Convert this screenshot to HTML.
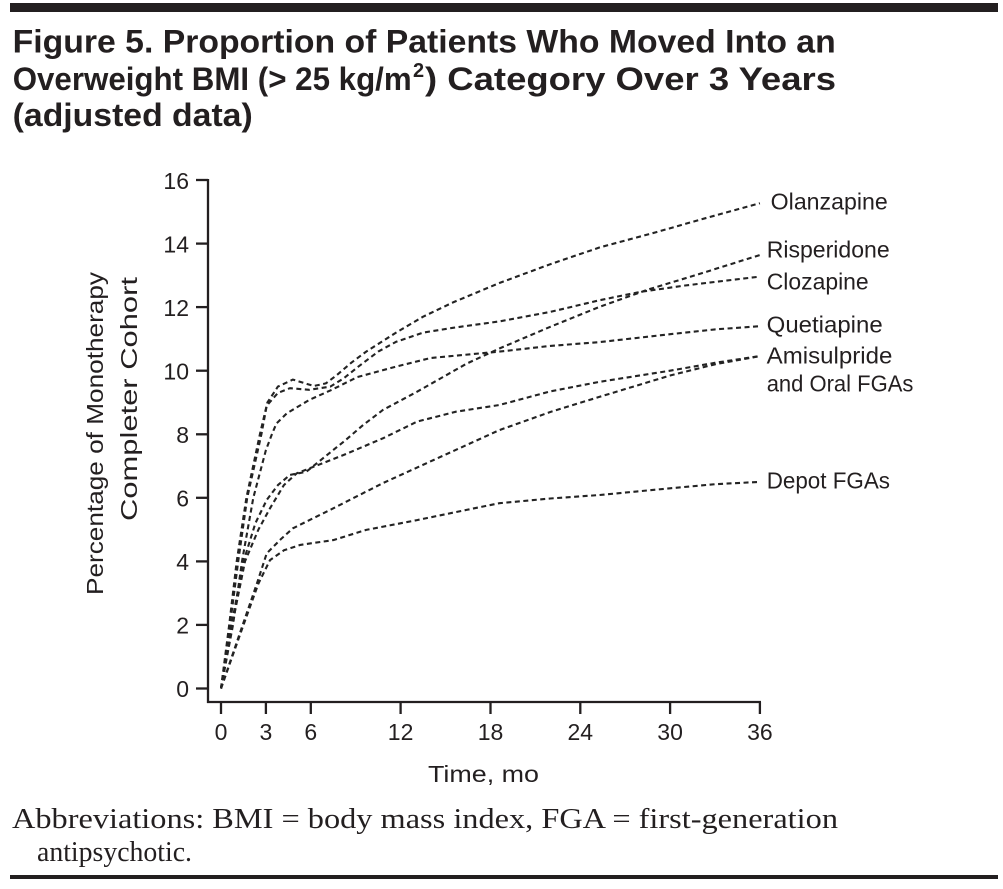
<!DOCTYPE html>
<html>
<head>
<meta charset="utf-8">
<style>
  html, body { margin: 0; padding: 0; background: #fff; }
  body { width: 1003px; height: 889px; overflow: hidden; }
  svg { display: block; }
  .sans { font-family: "Liberation Sans", sans-serif; fill: #231f20; }
  .serif { font-family: "Liberation Serif", serif; fill: #231f20; }
  .ln { fill: none; stroke: #232323; stroke-width: 2.1; stroke-dasharray: 5 3.5; stroke-linejoin: round; stroke-linecap: butt; }
</style>
</head>
<body>
<svg width="1003" height="889" viewBox="0 0 1003 889" xmlns="http://www.w3.org/2000/svg">
  <!-- top bar -->
  <rect x="10" y="3" width="988" height="9" fill="#231f20"/>

  <!-- title -->
  <text class="sans" x="12.7" y="52.5" font-size="32" font-weight="bold" textLength="823" lengthAdjust="spacingAndGlyphs">Figure 5. Proportion of Patients Who Moved Into an</text>
  <text class="sans" x="12.7" y="90" font-size="32" font-weight="bold" textLength="399" lengthAdjust="spacingAndGlyphs">Overweight BMI (&gt; 25 kg/m</text>
  <text class="sans" x="413" y="77" font-size="20" font-weight="bold">2</text>
  <text class="sans" x="425" y="90" font-size="32" font-weight="bold" textLength="411" lengthAdjust="spacingAndGlyphs">) Category Over 3 Years</text>
  <text class="sans" x="12.7" y="126" font-size="32" font-weight="bold" textLength="240" lengthAdjust="spacingAndGlyphs">(adjusted data)</text>

  <!-- axes -->
  <g stroke="#231f20" stroke-width="2.3" fill="none">
    <line x1="208" y1="179" x2="208" y2="703"/>
    <line x1="207" y1="702" x2="761" y2="702"/>
    <!-- y ticks -->
    <line x1="196" y1="688.5" x2="208" y2="688.5"/>
    <line x1="196" y1="624.9" x2="208" y2="624.9"/>
    <line x1="196" y1="561.4" x2="208" y2="561.4"/>
    <line x1="196" y1="497.8" x2="208" y2="497.8"/>
    <line x1="196" y1="434.3" x2="208" y2="434.3"/>
    <line x1="196" y1="370.7" x2="208" y2="370.7"/>
    <line x1="196" y1="307.1" x2="208" y2="307.1"/>
    <line x1="196" y1="243.6" x2="208" y2="243.6"/>
    <line x1="196" y1="180" x2="208" y2="180"/>
    <!-- x ticks -->
    <line x1="221" y1="702" x2="221" y2="714"/>
    <line x1="265.9" y1="702" x2="265.9" y2="714"/>
    <line x1="310.8" y1="702" x2="310.8" y2="714"/>
    <line x1="400.6" y1="702" x2="400.6" y2="714"/>
    <line x1="490.5" y1="702" x2="490.5" y2="714"/>
    <line x1="580.3" y1="702" x2="580.3" y2="714"/>
    <line x1="670.1" y1="702" x2="670.1" y2="714"/>
    <line x1="759.9" y1="702" x2="759.9" y2="714"/>
  </g>

  <!-- y tick labels -->
  <g class="sans" font-size="23" text-anchor="end">
    <text x="189" y="697">0</text>
    <text x="189" y="633.5">2</text>
    <text x="189" y="570">4</text>
    <text x="189" y="506.5">6</text>
    <text x="189" y="443">8</text>
    <text x="189" y="379.5">10</text>
    <text x="189" y="316">12</text>
    <text x="189" y="252.5">14</text>
    <text x="189" y="189">16</text>
  </g>

  <!-- x tick labels -->
  <g class="sans" font-size="23" text-anchor="middle">
    <text x="221" y="740">0</text>
    <text x="265.9" y="740">3</text>
    <text x="310.8" y="740">6</text>
    <text x="400.6" y="740">12</text>
    <text x="490.5" y="740">18</text>
    <text x="580.3" y="740">24</text>
    <text x="670.1" y="740">30</text>
    <text x="759.9" y="740">36</text>
  </g>

  <!-- axis titles -->
  <text class="sans" x="428" y="782" font-size="23" textLength="111" lengthAdjust="spacingAndGlyphs">Time, mo</text>
  <text class="sans" font-size="23" text-anchor="middle" transform="translate(103,433.5) rotate(-90)" textLength="323" lengthAdjust="spacingAndGlyphs">Percentage of Monotherapy</text>
  <text class="sans" font-size="23" text-anchor="middle" transform="translate(137,399) rotate(-90)" textLength="244" lengthAdjust="spacingAndGlyphs">Completer Cohort</text>

  <!-- series -->
  <!-- Olanzapine -->
  <polyline class="ln" points="221,688.5 229.2,624.9 236.7,561.4 246.4,497.8 259.9,434.3 267.4,402.5 277.9,386.6 292.9,379.6 303.3,382.8 313.8,386 325.8,383.4 336.3,375.5 351.2,362.8 366.2,351.6 396.1,332.6 423.1,316.7 453,302.4 499.4,283 550.3,264.2 599.7,247.4 655.1,232.5 700,219.7 759.9,203.2"/>
  <!-- Clozapine -->
  <polyline class="ln" points="221,688.5 230,624.9 238.2,561.4 247.2,497.8 261.4,434.3 266.7,405.7 277.9,392.9 289.9,388.2 309.3,389.8 330.3,386.6 343.8,378.3 357.2,367.5 378.2,351.6 396.1,341.8 423.1,332.6 453,327.8 499.4,321.4 550.3,311.9 599.7,300.2 640.2,291.9 685.1,285.5 759.9,276.6"/>
  <!-- Quetiapine -->
  <polyline class="ln" points="221,688.5 233,624.9 242,561.4 253.3,497.8 265.9,450.1 271.9,434.3 276.4,423.5 286.9,413.3 309.3,399.9 331.8,389.8 357.2,377.1 396.1,366.6 430.6,358 499.4,351.6 550.3,345.9 599.7,342.1 670.1,334.2 715,329.4 759.9,326.2"/>
  <!-- Risperidone -->
  <polyline class="ln" points="221,688.5 231.5,624.9 243.5,561.4 255.4,523.2 266.7,500 277.9,485.1 289.9,474.9 306.3,471.8 322.8,458.4 343.8,441.6 363.2,425 382.7,410.1 417.1,391.7 466.5,363.7 499.4,348.5 550.3,326.8 599.7,306.8 647.6,289.7 700,273.8 759.9,255"/>
  <!-- Amisulpride -->
  <polyline class="ln" points="221,688.5 232.2,624.9 245,561.4 258.4,529.6 270,508.3 283.9,485.1 296.7,473.3 313.8,466.7 343.8,454.9 382.7,438.4 417.1,421.6 456,411.7 499.4,405 550.3,391.4 599.7,381.8 670.1,370.7 715,362.8 759.9,356.1"/>
  <!-- Oral FGAs -->
  <polyline class="ln" points="221,688.5 242.7,624.9 256.9,583.6 266.7,553.4 280.9,539.1 292.9,528.3 333.3,508.3 382.7,483.2 433.6,460 499.4,430.1 550.3,412 599.7,396.8 670.1,375.5 715,364.3 759.9,356.1"/>
  <!-- Depot FGAs -->
  <polyline class="ln" points="221,688.5 243.5,624.9 258.4,583.6 270,560.1 283.9,550.3 300.3,544.9 333.3,540.1 366.2,529.9 417.1,520.1 466.5,509.9 499.4,503.2 550.3,498.5 599.7,495 670.1,488.3 715,484.2 759.9,481.9"/>

  <!-- series labels -->
  <g class="sans" font-size="23">
    <text x="770.7" y="209.3" textLength="117" lengthAdjust="spacingAndGlyphs">Olanzapine</text>
    <text x="766.7" y="257.3" textLength="123" lengthAdjust="spacingAndGlyphs">Risperidone</text>
    <text x="766.7" y="289.3" textLength="102" lengthAdjust="spacingAndGlyphs">Clozapine</text>
    <text x="766.7" y="332.7" textLength="116" lengthAdjust="spacingAndGlyphs">Quetiapine</text>
    <text x="766.7" y="363.3" textLength="125.7" lengthAdjust="spacingAndGlyphs">Amisulpride</text>
    <text x="766.7" y="391.7" textLength="146.7" lengthAdjust="spacingAndGlyphs">and Oral FGAs</text>
    <text x="766.7" y="488.3" textLength="123.3" lengthAdjust="spacingAndGlyphs">Depot FGAs</text>
  </g>

  <!-- footnote -->
  <text class="serif" x="12" y="828" font-size="28" textLength="826" lengthAdjust="spacingAndGlyphs">Abbreviations: BMI = body mass index, FGA = first-generation</text>
  <text class="serif" x="37" y="861" font-size="28" textLength="155" lengthAdjust="spacingAndGlyphs">antipsychotic.</text>

  <!-- bottom rule -->
  <rect x="10" y="875" width="988" height="4" fill="#231f20"/>
</svg>
</body>
</html>
